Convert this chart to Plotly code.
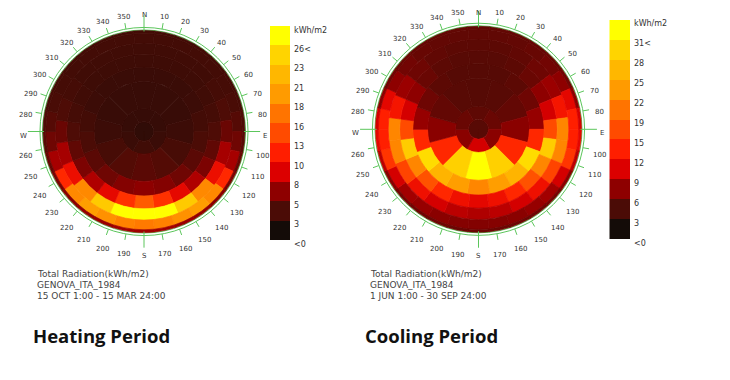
import math
import plotly.graph_objects as go
from plotly.colors import sample_colorscale

# ---------------- data ----------------
# Sky patches (Tregenza-like), ring order: zenith cap -> horizon
RING_COUNTS = [1, 6, 12, 18, 24, 24, 30, 30]

# Heating period, 15 OCT - 15 MAR (kWh/m2), azimuth from N clockwise
H_CAP = [1.3]
H_R6 = [1.6, 1.6, 1.8, 2.1, 1.8, 1.6]
H_R5 = [1.7, 1.7, 1.7, 1.9, 2.4, 2.9, 3.2, 2.9, 2.4, 1.9, 1.7, 1.7]
H_R4 = [1.8, 1.8, 1.8, 1.9, 2.2, 2.6, 3.2, 4.0, 4.8, 5.2, 4.8, 4.0, 3.2, 2.6, 2.2, 1.9, 1.8, 1.8]
H_R3 = [2.0, 2.0, 2.0, 2.0, 2.1, 2.3, 2.7, 3.4, 4.5, 6.3, 8.5, 11.5, 14.0, 11.5, 8.5, 6.3, 4.5, 3.4,
        2.7, 2.3, 2.1, 2.0, 2.0, 2.0]
H_R2 = [2.1, 2.1, 2.1, 2.1, 2.3, 2.7, 3.8, 6.0, 9.0, 17.0, 22.5, 26.0, 26.5, 26.0, 22.5, 17.0, 9.0, 6.0,
        3.8, 2.7, 2.3, 2.1, 2.1, 2.1]
H_R1 = [2.2, 2.2, 2.2, 2.2, 2.2, 2.3, 2.5, 3.0, 4.0, 6.0, 11.0, 17.0, 18.5, 17.5, 16.5, 16.0, 16.5, 17.5,
        18.5, 17.0, 11.0, 6.0, 4.0, 3.0, 2.5, 2.3, 2.2, 2.2, 2.2, 2.2]
H_R0 = [2.2, 2.2, 2.2, 2.2, 2.2, 2.3, 2.4, 2.7, 3.1, 3.7, 4.4, 5.0, 5.4, 5.6, 5.8, 5.8, 5.8, 5.6,
        5.4, 5.0, 4.4, 3.7, 3.1, 2.7, 2.4, 2.3, 2.2, 2.2, 2.2, 2.2]

# Cooling period, 1 JUN - 30 SEP (kWh/m2)
C_CAP = [3.7]
C_R6 = [4.0, 4.5, 6.0, 9.0, 6.0, 4.5]
C_R5 = [3.6, 3.7, 4.2, 6.0, 13.0, 27.5, 31.5, 27.5, 13.0, 6.0, 4.2, 3.7]
C_R4 = [3.6, 3.6, 3.9, 4.7, 6.5, 13.0, 28.5, 24.5, 22.0, 20.0, 22.0, 24.5, 28.5, 13.0, 6.5, 4.7, 3.9, 3.6]
C_R3 = [3.7, 3.7, 3.9, 4.5, 6.2, 9.0, 15.5, 27.0, 20.0, 16.0, 13.0, 11.0, 10.0, 11.0, 13.0, 16.0, 20.0, 27.0,
        15.5, 9.0, 6.2, 4.5, 3.9, 3.7]
C_R2 = [3.9, 3.9, 4.1, 4.7, 6.7, 11.5, 20.0, 20.0, 15.0, 11.0, 9.0, 8.0, 7.5, 8.0, 9.0, 11.0, 15.0, 20.0,
        20.0, 11.5, 6.7, 4.7, 4.1, 3.9]
C_R1 = [4.1, 4.1, 4.2, 4.4, 4.9, 6.2, 10.0, 12.5, 12.5, 14.0, 9.0, 7.0, 6.5, 6.0, 5.8, 5.7, 5.8, 6.0,
        6.5, 7.0, 9.0, 14.0, 12.5, 12.5, 10.0, 6.2, 4.9, 4.4, 4.2, 4.1]
C_R0 = [4.2, 4.2, 4.2, 4.3, 4.5, 4.9, 6.2, 9.0, 10.0, 8.0, 6.0, 5.0, 4.8, 4.7, 4.6, 4.6, 4.6, 4.7,
        4.8, 5.0, 6.0, 8.0, 10.0, 9.0, 6.2, 4.9, 4.5, 4.3, 4.2, 4.2]

HEAT_MAX = 26.0
COOL_MAX = 31.0
HEAT_TICKS = ["<0", "3", "5", "8", "10", "13", "16", "18", "21", "23", "26<", "kWh/m2"]
COOL_TICKS = ["<0", "3", "6", "9", "12", "15", "19", "22", "25", "28", "31<", "kWh/m2"]
LEGEND_LEVELS = list(range(11))

COMPASS_ANGLES = list(range(0, 360, 10))
COMPASS_TEXT = ["N" if a == 0 else "E" if a == 90 else "S" if a == 180 else "W" if a == 270 else str(a)
                for a in COMPASS_ANGLES]

HEAT_CAPTION = ["Total Radiation(kWh/m2)", "GENOVA_ITA_1984", "15 OCT 1:00 - 15 MAR 24:00"]
COOL_CAPTION = ["Total Radiation(kWh/m2)", "GENOVA_ITA_1984", "1 JUN 1:00 - 30 SEP 24:00"]
TITLES = ["Heating Period", "Cooling Period"]

# ---------------- style ----------------
RING_EDGES = [0.0, 0.096, 0.225, 0.495, 0.638, 0.766, 0.877, 0.973, 1.0]
COLORS = ["#140c08", "#4b0c06", "#8e0000", "#dc0000", "#ff1e00", "#ff4b00",
          "#ff7400", "#ff9b00", "#ffb700", "#ffd400", "#ffff00"]
CSCALE = [[i / 10, c] for i, c in enumerate(COLORS)]
GREEN = "#5cc65c"
W, H = 730, 380
OFF = 8  # page body margin offset (px)
RMAX = 1.175
LABEL_R = 1.195


def px_x(x):
    return (x - OFF) / W


def px_y(y):
    return 1 - (y - OFF) / H


def dome(values_by_ring, vmax, subplot):
    r, base, theta, width, vals = [], [], [], [], []
    for k, ring in enumerate(values_by_ring):
        n = RING_COUNTS[k]
        for j, v in enumerate(ring):
            theta.append(j * 360.0 / n)
            width.append(360.0 / n if n > 1 else 359.999)
            base.append(RING_EDGES[k])
            r.append(RING_EDGES[k + 1] - RING_EDGES[k])
            vals.append(v)
    edge = sample_colorscale(CSCALE, [min(max(v / vmax, 0), 1) for v in vals])
    return go.Barpolar(
        r=r, base=base, theta=theta, width=width, subplot=subplot,
        marker=dict(color=vals, colorscale=CSCALE, cmin=0, cmax=vmax,
                    line=dict(width=0.7, color=edge)),
        hoverinfo="skip", showlegend=False)


def compass_ticks(subplot):
    rr, tt = [], []
    for a in COMPASS_ANGLES:
        if a % 90 == 0:
            rr += [0.99, 1.15, None]
        else:
            rr += [1.03, 1.09, None]
        tt += [a, a, None]
    return go.Scatterpolar(r=rr, theta=tt, mode="lines", subplot=subplot,
                           line=dict(color=GREEN, width=1), hoverinfo="skip", showlegend=False)


def compass_labels(cx, cy, unit):
    out = []
    for a, t in zip(COMPASS_ANGLES, COMPASS_TEXT):
        rad = math.radians(a)
        x = cx + LABEL_R * unit * math.sin(rad)
        y = max(cy - LABEL_R * unit * math.cos(rad) + 4, OFF + 5)
        out.append(dict(x=px_x(x), y=px_y(y), xref="paper", yref="paper", text=t, showarrow=False,
                        xanchor="center", yanchor="middle",
                        font=dict(family="DejaVu Sans", size=7, color="#333333")))
    return out


def polar_layout(cx, cy, unit):
    rad = unit * RMAX
    return dict(
        domain=dict(x=[px_x(cx - rad), px_x(cx + rad)], y=[px_y(cy + rad), px_y(cy - rad)]),
        bgcolor="rgba(0,0,0,0)",
        angularaxis=dict(rotation=90, direction="clockwise", showgrid=False, showline=False,
                         showticklabels=False, ticks=""),
        radialaxis=dict(range=[0, RMAX], showticklabels=False, ticks="", showline=False,
                        showgrid=True, tickvals=[1.005, 1.03], gridcolor=GREEN, gridwidth=1),
    )


HEAT_GEOM = (144, 131.5, 101)
COOL_GEOM = (478.5, 129.3, 103)

fig = go.Figure()
fig.add_trace(dome([H_CAP, H_R6, H_R5, H_R4, H_R3, H_R2, H_R1, H_R0], HEAT_MAX, "polar"))
fig.add_trace(compass_ticks("polar"))
fig.add_trace(dome([C_CAP, C_R6, C_R5, C_R4, C_R3, C_R2, C_R1, C_R0], COOL_MAX, "polar2"))
fig.add_trace(compass_ticks("polar2"))

# legends (colour keys)
for xa, ya in [("x", "y"), ("x2", "y2")]:
    fig.add_trace(go.Heatmap(z=[[v] for v in LEGEND_LEVELS], x=[0], y=LEGEND_LEVELS,
                             colorscale=CSCALE, zmin=0, zmax=10, showscale=False,
                             xaxis=xa, yaxis=ya, hoverinfo="skip"))

annotations = compass_labels(*HEAT_GEOM) + compass_labels(*COOL_GEOM)
for xa, ya, labels in [("x", "y", HEAT_TICKS), ("x2", "y2", COOL_TICKS)]:
    for k, lab in enumerate(labels):
        annotations.append(dict(x=0.5, y=k - 0.5, xref=xa, yref=ya, text=lab, showarrow=False,
                                xanchor="left", yanchor="middle", xshift=2, yshift=-4,
                                font=dict(family="DejaVu Sans", size=8, color="#333333")))

for x0, cap in [(35, HEAT_CAPTION), (368, COOL_CAPTION)]:
    for k, line in enumerate(cap):
        annotations.append(dict(x=px_x(x0), y=px_y(274 + 11 * k), xref="paper", yref="paper",
                                text=line, showarrow=False, xanchor="left", yanchor="middle",
                                font=dict(family="DejaVu Sans", size=9, color="#444444")))
for x0, t in [(31, TITLES[0]), (363, TITLES[1])]:
    annotations.append(dict(x=px_x(x0), y=px_y(335), xref="paper", yref="paper", text="<b>%s</b>" % t,
                            showarrow=False, xanchor="left", yanchor="middle",
                            font=dict(family="Open Sans", size=18.5, color="#111111")))

axis_off = dict(visible=False, fixedrange=True)
fig.update_layout(
    width=W, height=H, margin=dict(l=0, r=0, t=0, b=0),
    paper_bgcolor="white", plot_bgcolor="white", showlegend=False,
    polar=polar_layout(*HEAT_GEOM),
    polar2=polar_layout(*COOL_GEOM),
    xaxis=dict(domain=[px_x(270), px_x(290)], range=[-0.5, 0.5], **axis_off),
    yaxis=dict(domain=[px_y(240), px_y(26)], range=[-0.5, 10.5], **axis_off),
    xaxis2=dict(domain=[px_x(609.3), px_x(630)], range=[-0.5, 0.5], **axis_off),
    yaxis2=dict(domain=[px_y(239.3), px_y(20)], range=[-0.5, 10.5], **axis_off),
    annotations=annotations,
)
fig.write_html("out.html")
